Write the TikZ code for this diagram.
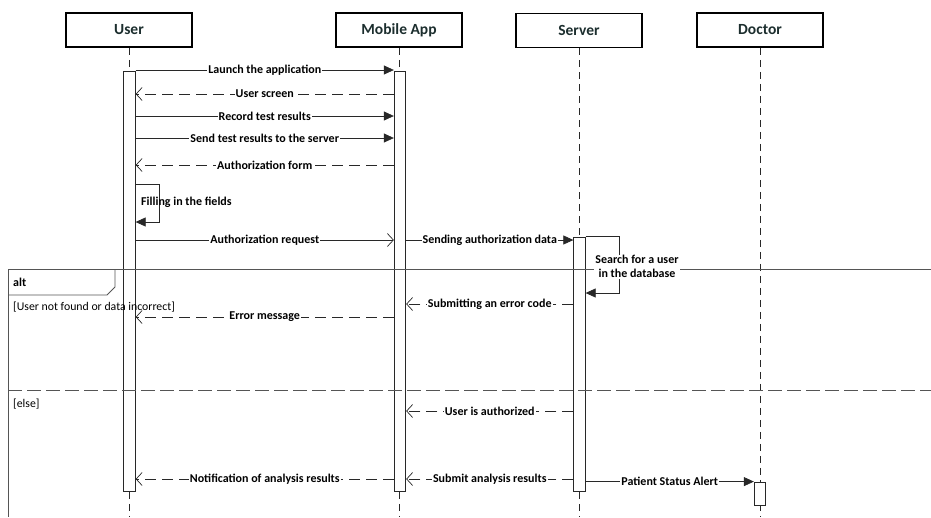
\documentclass[tikz,border=0pt]{standalone}
\usepackage{fontspec}
\setmainfont{Carlito}
\usetikzlibrary{arrows.meta}

\definecolor{headtext}{RGB}{28,46,46}
\definecolor{linecol}{RGB}{40,40,40}
\definecolor{framecol}{RGB}{85,85,85}

\tikzset{
  actor/.style={draw, line width=1.6pt, minimum width=126pt, minimum height=34pt,
    text=headtext, font=\fontsize{15.5}{18}\selectfont\bfseries},
  life/.style={draw=linecol, line width=0.7pt, dash pattern=on 7pt off 5pt},
  bar/.style={draw=linecol, fill=white, line width=0.8pt, minimum width=11.5pt, inner sep=0pt},
  call/.style={draw=linecol, line width=0.7pt, -{Triangle[length=10pt,width=9pt]}},
  async/.style={draw=linecol, line width=0.7pt, -{Straight Barb[length=6pt,width=13pt]}},
  reply/.style={async, dash pattern=on 11pt off 6pt},
  msg/.style={fill=white, inner sep=1pt, font=\fontsize{12}{13.5}\selectfont\bfseries},
  guard/.style={inner sep=0pt, anchor=west, font=\fontsize{11.8}{13.5}\selectfont},
  frame/.style={draw=framecol, line width=0.8pt},
}

\begin{document}
\begin{tikzpicture}[x=1pt, y=-1pt]
  \useasboundingbox (0,0) rectangle (931,517);

  % participants
  \node[actor] (user) at (129,30) {User};
  \node[actor] (app) at (399,30) {Mobile App};
  \node[actor] (server) at (579,30.5) {Server};
  \node[actor] (doctor) at (760,30) {Doctor};
  \foreach \n in {user,app,server,doctor}
    \draw[life] (\n.south) -- (\n.south |- 0,517);

  % activations
  \node[bar, minimum height=420pt] (ubar) at (129.5,281) {};
  \node[bar, minimum height=420pt] (abar) at (400,281) {};
  \node[bar, minimum height=254pt] (sbar) at (579.5,364) {};
  \node[bar, minimum height=23pt] (dbar) at (760,493.5) {};

  % alt frame
  \draw[frame] (931,269) -- (8,269) -- (8,517);
  \draw[frame] (8,295) -- (107,295) -- (115,287) -- (115,269);
  \node[guard, font=\fontsize{12}{14}\selectfont\bfseries] (alt) at (13,282) {alt};
  \draw[frame, dash pattern=on 14pt off 5pt] (8,390) -- (931,390);
  \node[guard] (g1) at (13,307) {[User not found or data incorrect]};
  \node[guard] (g2) at (13,404) {[else]};

  % user -> app
  \foreach \y/\txt in {70/Launch the application, 116/Record test results,
      138/Send test results to the server}
    \draw[call] (ubar.east |- 0,\y) -- node[msg] {\txt} (abar.west |- 0,\y);
  \draw[async] (ubar.east |- 0,240) -- node[msg] {Authorization request} (abar.west |- 0,240);

  % app -> user
  \foreach \y/\txt in {94/User screen, 165/Authorization form, 317/Error message,
      479/Notification of analysis results}
    \draw[reply] (abar.west |- 0,\y) -- node[msg] {\txt} (ubar.east |- 0,\y);

  % self call of user
  \draw[call] (ubar.east |- 0,184) -- ++(24,0) |- (ubar.east |- 0,222);
  \node[msg, anchor=west, fill=none] (filling) at (140,202) {Filling in the fields};

  % app <-> server
  \draw[call] (abar.east |- 0,240) -- node[msg] {Sending authorization data} (sbar.west |- 0,240);
  \draw[call] (sbar.north east) -- ++(34,0) |- (sbar.east |- 0,293);
  \node[msg, align=center] (search) at (637,266.5) {Search for a user\\in the database};
  \foreach \y/\txt in {304/Submitting an error code, 411/User is authorized,
      479/Submit analysis results}
    \draw[reply] (sbar.west |- 0,\y) -- node[msg] {\txt} (abar.east |- 0,\y);

  % server -> doctor
  \draw[call] (sbar.east |- dbar.north) -- node[msg] {Patient Status Alert} (dbar.north west);
\end{tikzpicture}
\end{document}
